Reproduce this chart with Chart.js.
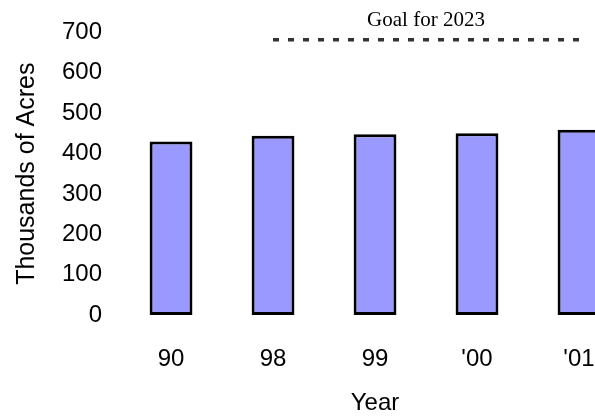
<!DOCTYPE html>
<html>
<head>
<meta charset="utf-8">
<script src="https://cdn.jsdelivr.net/npm/chart.js@4/dist/chart.umd.min.js"></script>
<style>
  html, body { margin: 0; padding: 0; background: #fff; overflow: hidden; }
  #wrap { position: relative; width: 640px; height: 416px; }
</style>
</head>
<body>
<div id="wrap"><canvas id="chart"></canvas></div>
<script>
// data
const years = ['90', '98', '99', "'00", "'01"];
const acres = [430, 444, 448, 450, 459];
const goalValue = 682;
const goalLine = [null, goalValue, goalValue, goalValue, goalValue];
const yTicks = [0, 100, 200, 300, 400, 500, 600, 700];

// label above the dashed goal line
const goalLabel = {
    id: 'goalLabel',
    afterDatasetsDraw(chart) {
        const meta = chart.getDatasetMeta(1);
        const pts = meta.data.filter(p => !p.skip);
        if (!pts.length) return;
        const x = (pts[0].x + pts[pts.length - 1].x) / 2;
        const y = chart.scales.y.getPixelForValue(goalValue);
        const ctx = chart.ctx;
        ctx.save();
        ctx.font = '21px "Liberation Serif", "Times New Roman", serif';
        ctx.fillStyle = '#000';
        ctx.textAlign = 'center';
        ctx.textBaseline = 'middle';
        ctx.fillText('Goal for 2023', x, y - 19);
        ctx.restore();
    }
};

const sans = '"Liberation Sans", Arial, sans-serif';

new Chart(document.getElementById('chart'), {
    data: {
        labels: years,
        datasets: [{
            type: 'bar',
            data: acres,
            backgroundColor: '#9999FF',
            borderColor: '#000',
            borderWidth: 3,
            borderSkipped: false,
            barPercentage: 0.42,
            categoryPercentage: 1
        }, {
            type: 'line',
            data: goalLine,
            borderColor: '#333',
            borderWidth: 3.5,
            borderDash: [6, 9],
            pointRadius: 0,
            fill: false
        }]
    },
    options: {
        responsive: true,
        maintainAspectRatio: false,
        animation: false,
        layout: { padding: { left: 12, right: 10, top: 0, bottom: -2 } },
        plugins: {
            legend: { display: false },
            tooltip: { enabled: false }
        },
        scales: {
            x: {
                grid: { display: false, drawTicks: false },
                border: { display: false },
                ticks: { color: '#000', font: { family: sans, size: 24 }, padding: 29.6 },
                // tick padding is counted twice in the axis height, so pull the title up
                title: { display: true, text: 'Year', color: '#000', font: { family: sans, size: 24 }, padding: { top: -13.8, bottom: 0 } }
            },
            y: {
                min: 0,
                max: 700,
                afterBuildTicks(axis) { axis.ticks = yTicks.map(v => ({ value: v })); },
                grid: { display: false, drawTicks: false },
                border: { display: false },
                ticks: { color: '#000', font: { family: sans, size: 24 }, padding: 18 },
                title: { display: true, text: 'Thousands of Acres', color: '#000', font: { family: sans, size: 25 }, padding: { top: 0, bottom: 2 } }
            }
        }
    },
    plugins: [goalLabel]
});
</script>
</body>
</html>
